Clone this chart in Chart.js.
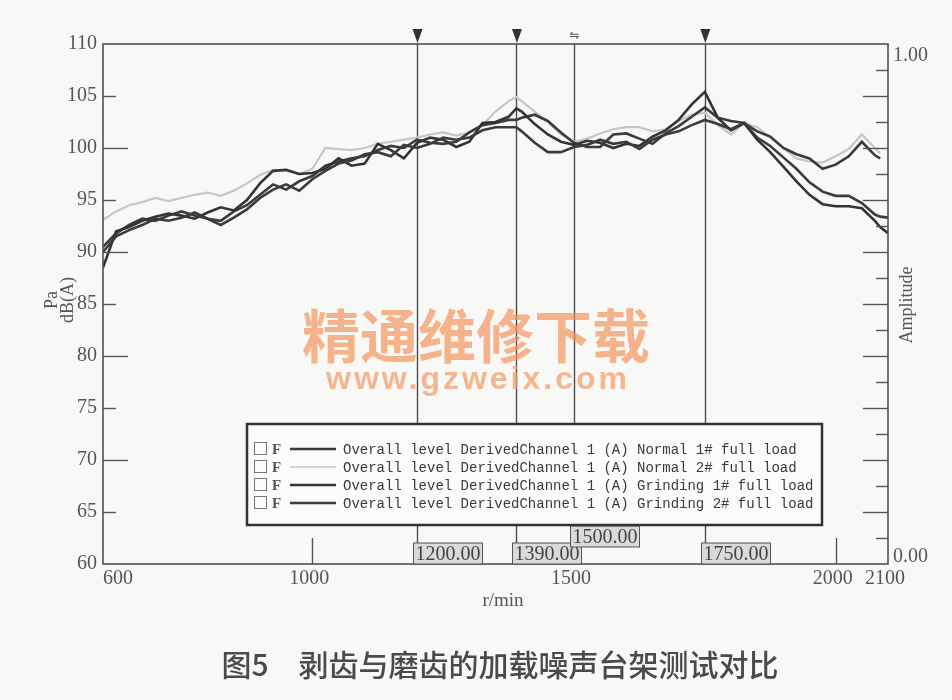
<!DOCTYPE html>
<html>
<head>
<meta charset="utf-8">
<script src="https://cdn.jsdelivr.net/npm/chart.js@4.4.0/dist/chart.umd.min.js"></script>
<style>
    body { margin: 0; background: #f8f8f6; }
    #wrap { width: 952px; height: 700px; }
</style>
</head>
<body>
<div id="wrap"><canvas id="noiseChart" width="952" height="700"></canvas></div>
<script>
// rpm grid (r/min) and dB(A) readings per run
const rpm = [600, 625, 650, 675, 700, 725, 750, 775, 800, 825, 850, 875, 900, 925, 950, 975, 1000,
    1025, 1050, 1075, 1100, 1125, 1150, 1175, 1200, 1225, 1250, 1275, 1300, 1325, 1350, 1375,
    1390, 1400, 1425, 1450, 1475, 1500,
    1525, 1550, 1575, 1600, 1625, 1650, 1675, 1700, 1725, 1750, 1775, 1800, 1825,
    1850, 1875, 1900, 1925, 1950, 1975, 2000, 2025, 2050, 2075, 2085, 2100];

const normal1 = [90.0, 91.5, 92.1, 92.6, 93.2, 93.0, 93.3, 93.8, 93.2, 92.6, 93.3, 94.1, 95.2, 96.0, 96.5, 95.9, 97.0,
    97.8, 98.5, 98.8, 99.4, 99.6, 99.2, 100.3, 100.0, 100.4, 101.0, 100.8, 101.0, 101.7, 102.0, 102.0,
    102.0, 101.6, 100.5, 99.6, 99.6, 100.1,
    100.3, 100.8, 100.4, 100.6, 99.9, 100.8, 101.3, 101.6, 102.2, 102.7, 102.3, 101.8, 102.4,
    101.6, 101.1, 100.0, 99.4, 99.0, 98.0, 98.4, 99.2, 100.6, 99.3, 99.0, null];

const normal2 = [93.1, 93.9, 94.5, 94.8, 95.2, 94.9, 95.2, 95.5, 95.7, 95.4, 95.9, 96.6, 97.4, 97.9, 97.8, 97.5, 98.0,
    100.0, 99.9, 99.8, 100.0, 100.4, 100.6, 100.8, 101.0, 101.3, 101.5, 101.2, 101.5, 102.2, 103.5, 104.5,
    104.9, 104.5, 103.5, 102.5, 101.3, 100.6,
    100.9, 101.4, 101.8, 102.0, 102.0, 101.6, 101.8, 102.6, 103.2, 103.4, 102.2, 101.3, 102.4,
    102.0, 101.0, 100.0, 99.0, 98.7, 98.6, 99.2, 99.9, 101.3, 100.0, 99.5, null];

const grinding1 = [88.5, 92.0, 92.4, 93.0, 93.4, 93.7, 93.5, 93.2, 93.8, 94.3, 94.0, 95.0, 96.6, 97.8, 97.9, 97.5, 97.6,
    98.0, 99.0, 98.3, 98.5, 100.4, 99.8, 99.0, 100.5, 101.0, 100.8, 100.1, 100.6, 102.4, 102.5, 103.0,
    103.8, 103.5, 102.3, 101.3, 100.6, 100.3,
    100.7, 100.5, 100.0, 100.4, 100.2, 101.1, 101.7, 102.7, 104.2, 105.4, 102.9, 101.7, 102.4,
    100.8, 99.6, 98.2, 96.8, 95.5, 94.6, 94.4, 94.4, 94.2, 93.0, 92.4, 91.8];

const grinding2 = [90.5, 91.8, 92.6, 93.2, 93.0, 93.5, 93.9, 93.5, 93.2, 93.0, 93.9, 94.5, 95.5, 96.5, 96.0, 96.8, 97.3,
    98.3, 98.7, 99.0, 99.2, 99.8, 100.2, 100.0, 100.8, 100.5, 100.4, 100.6, 101.5, 102.2, 102.4, 102.7,
    102.7, 102.9, 103.2, 102.6, 101.5, 100.5,
    100.1, 100.1, 101.3, 101.4, 100.9, 100.4, 101.4, 102.1, 103.0, 103.9, 102.9, 102.6, 102.4,
    101.0, 100.2, 99.1, 98.0, 96.7, 95.8, 95.4, 95.4, 94.7, 93.6, 93.4, 93.3];

const seriesLabels = [
    'Overall level DerivedChannel 1 (A) Normal 1# full load',
    'Overall level DerivedChannel 1 (A) Normal 2# full load',
    'Overall level DerivedChannel 1 (A) Grinding 1# full load',
    'Overall level DerivedChannel 1 (A) Grinding 2# full load'
];

const xTickValues = [600, 1000, 1500, 2000, 2100];
const xMarkTicks = [1000, 1500, 2000];
const cursorRpm = [1200, 1390, 1500, 1750];
const cursorText = ['1200.00', '1390.00', '1500.00', '1750.00'];
const cursorArrow = [true, true, false, true];
const rightLabels = ['1.00', '0.00'];
const caption = '图5\u3000剥齿与磨齿的加载噪声台架测试对比';

const serif = '"Liberation Serif", "DejaVu Serif", serif';

function toPoints(values) {
    return rpm.map((r, i) => ({ x: r, y: values[i] }));
}

const decorPlugin = {
    id: 'decor',
    beforeDraw(chart) {
        const ctx = chart.ctx;
        ctx.save();
        ctx.fillStyle = '#f8f8f6';
        ctx.fillRect(0, 0, chart.width, chart.height);
        ctx.restore();
    },
    beforeDatasetsDraw(chart) {
        const ctx = chart.ctx, a = chart.chartArea, xs = chart.scales.x;
        ctx.save();
        ctx.strokeStyle = '#4d4d4d';
        ctx.lineWidth = 1.4;
        cursorRpm.forEach(r => {
            const px = Math.round(xs.getPixelForValue(r)) + 0.5;
            ctx.beginPath();
            ctx.moveTo(px, a.top);
            ctx.lineTo(px, a.bottom);
            ctx.stroke();
        });
        ctx.restore();
    },
    afterDraw(chart) {
        const ctx = chart.ctx, a = chart.chartArea;
        const xs = chart.scales.x, ys = chart.scales.y, y2 = chart.scales.y2;
        ctx.save();

        // frame
        ctx.strokeStyle = '#505050';
        ctx.lineWidth = 1.6;
        ctx.strokeRect(a.left, a.top, a.right - a.left, a.bottom - a.top);

        // inward ticks, left axis
        ctx.lineWidth = 1.4;
        ctx.strokeStyle = '#555';
        for (let v = 65; v < 110; v += 5) {
            const py = Math.round(ys.getPixelForValue(v)) + 0.5;
            const len = v % 10 === 0 ? 25 : 13;
            ctx.beginPath();
            ctx.moveTo(a.left, py);
            ctx.lineTo(a.left + len, py);
            ctx.stroke();
        }
        // inward ticks, right axis
        for (let k = 1; k < 20; k++) {
            const py = Math.round(y2.getPixelForValue(k / 20)) + 0.5;
            const len = k % 2 === 0 ? 25 : 12;
            ctx.beginPath();
            ctx.moveTo(a.right, py);
            ctx.lineTo(a.right - len, py);
            ctx.stroke();
        }
        // inward ticks, x axis
        xMarkTicks.forEach(v => {
            const px = Math.round(xs.getPixelForValue(v)) + 0.5;
            ctx.beginPath();
            ctx.moveTo(px, a.bottom);
            ctx.lineTo(px, a.bottom - 26);
            ctx.stroke();
        });

        // cursor heads
        ctx.fillStyle = '#333';
        cursorRpm.forEach((r, i) => {
            const px = xs.getPixelForValue(r) + 0.5;
            if (cursorArrow[i]) {
                ctx.beginPath();
                ctx.moveTo(px - 5, a.top - 15);
                ctx.lineTo(px + 5, a.top - 15);
                ctx.lineTo(px, a.top - 1);
                ctx.closePath();
                ctx.fill();
            } else {
                ctx.font = '12px "DejaVu Sans"';
                ctx.textAlign = 'center';
                ctx.textBaseline = 'middle';
                ctx.fillStyle = '#555';
                ctx.fillText('\u21CB', px, a.top - 8);
                ctx.fillStyle = '#333';
            }
        });

        // cursor value boxes
        ctx.font = '20px ' + serif;
        ctx.textBaseline = 'middle';
        ctx.textAlign = 'left';
        let prevRight = -Infinity;
        cursorRpm.forEach((r, i) => {
            const px = xs.getPixelForValue(r);
            const w = ctx.measureText(cursorText[i]).width + 4;
            const h = 21;
            const left = Math.round(px - 4) + 0.5;
            let top = a.bottom - h;
            if (left < prevRight) top -= 17;
            prevRight = left + w;
            ctx.fillStyle = '#dadada';
            ctx.fillRect(left, top, w, h);
            ctx.strokeStyle = '#555';
            ctx.lineWidth = 1;
            ctx.strokeRect(left, top, w, h);
            ctx.fillStyle = '#444';
            ctx.fillText(cursorText[i], left + 2, top + h / 2 + 1);
        });

        // legend box
        const lx = 247, ly = 424, lw = 575, lh = 101;
        ctx.fillStyle = '#fbfbfa';
        ctx.fillRect(lx, ly, lw, lh);
        ctx.strokeStyle = '#333';
        ctx.lineWidth = 2.5;
        ctx.strokeRect(lx, ly, lw, lh);
        chart.data.datasets.forEach((ds, i) => {
            const ry = 449 + i * 18;
            ctx.strokeStyle = '#777';
            ctx.lineWidth = 1;
            ctx.strokeRect(254.5, ry - 6.5, 12, 12);
            ctx.fillStyle = '#555';
            ctx.font = 'bold 15px ' + serif;
            ctx.textAlign = 'left';
            ctx.fillText('F', 272, ry + 1);
            ctx.strokeStyle = ds.borderColor;
            ctx.lineWidth = i === 1 ? 1.6 : 2.4;
            ctx.beginPath();
            ctx.moveTo(290, ry);
            ctx.lineTo(336, ry);
            ctx.stroke();
            ctx.fillStyle = '#3a3a3a';
            ctx.font = '14px "Liberation Mono", monospace';
            ctx.fillText(ds.label, 343, ry + 1);
        });

        // watermark
        ctx.textAlign = 'center';
        ctx.fillStyle = 'rgba(243, 146, 88, 0.68)';
        ctx.font = 'bold 58px "Noto Sans CJK SC"';
        ctx.fillText('精通维修下载', 476, 336);
        ctx.font = 'bold 32px "Liberation Sans"';
        ctx.letterSpacing = '3px';
        ctx.fillStyle = 'rgba(243, 156, 104, 0.72)';
        ctx.fillText('www.gzweix.com', 478, 380);
        ctx.letterSpacing = '0px';

        // x tick labels
        ctx.fillStyle = '#555';
        ctx.font = '20px ' + serif;
        xTickValues.forEach((v, i) => {
            const px = xs.getPixelForValue(v);
            ctx.textAlign = i === 0 ? 'left' : 'center';
            ctx.fillText(String(v), i === 0 ? px : px - 3, a.bottom + 15);
        });
        ctx.textAlign = 'center';
        ctx.font = '19px ' + serif;
        ctx.fillText('r/min', 503, 601);

        // right axis labels
        ctx.textAlign = 'left';
        ctx.font = '20px ' + serif;
        ctx.fillText(rightLabels[0], a.right + 5, a.top + 12);
        ctx.fillText(rightLabels[1], a.right + 5, a.bottom - 7);

        // axis titles
        ctx.font = '18px ' + serif;
        ctx.save();
        ctx.translate(52, 300);
        ctx.rotate(-Math.PI / 2);
        ctx.textAlign = 'center';
        ctx.fillText('Pa', 0, 0);
        ctx.fillText('dB(A)', 0, 16);
        ctx.restore();
        ctx.save();
        ctx.translate(907, 305);
        ctx.rotate(-Math.PI / 2);
        ctx.textAlign = 'center';
        ctx.fillText('Amplitude', 0, 0);
        ctx.restore();

        // caption
        ctx.fillStyle = '#4a4a4a';
        ctx.font = '500 30px "Noto Sans CJK SC"';
        ctx.textAlign = 'center';
        ctx.fillText(caption, 500, 665);

        ctx.restore();
    }
};

document.addEventListener('DOMContentLoaded', function() {
    const ctx = document.getElementById('noiseChart').getContext('2d');
    const colors = ['#3b3b3b', '#c6c6c6', '#343434', '#403a3a'];
    const values = [normal1, normal2, grinding1, grinding2];

    const noiseChart = new Chart(ctx, {
        type: 'line',
        data: {
            datasets: values.map((v, i) => ({
                label: seriesLabels[i],
                data: toPoints(v),
                borderColor: colors[i],
                borderWidth: i === 1 ? 2.2 : 2.6,
                pointRadius: 0,
                tension: 0,
                spanGaps: false,
                order: i === 1 ? 10 : i
            }))
        },
        options: {
            responsive: false,
            animation: false,
            devicePixelRatio: 1,
            layout: { padding: { top: 44, left: 0, right: 0, bottom: 0 } },
            plugins: {
                legend: { display: false },
                tooltip: { enabled: false }
            },
            scales: {
                x: {
                    type: 'linear',
                    min: 600,
                    max: 2100,
                    grid: { display: false },
                    border: { display: false },
                    ticks: { display: false },
                    afterFit: function(scale) { scale.height = 136; }
                },
                y: {
                    position: 'left',
                    min: 60,
                    max: 110,
                    grid: { display: false, drawTicks: false },
                    border: { display: false },
                    ticks: {
                        stepSize: 5,
                        padding: 6,
                        color: '#555',
                        font: { family: serif, size: 20 }
                    },
                    afterFit: function(scale) { scale.width = 103; }
                },
                y2: {
                    position: 'right',
                    min: 0,
                    max: 1,
                    grid: { display: false },
                    border: { display: false },
                    ticks: { display: false },
                    afterFit: function(scale) { scale.width = 64; }
                }
            }
        },
        plugins: [decorPlugin]
    });
});
</script>
</body>
</html>
